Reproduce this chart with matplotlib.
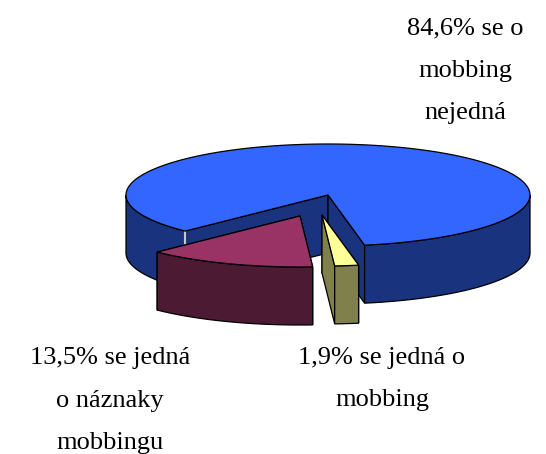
import matplotlib
matplotlib.use('Agg')
import matplotlib.pyplot as plt
from matplotlib.patches import Polygon
import numpy as np

# slice data (clockwise order as drawn)
labels = ['84,6% se o\nmobbing\nnejedná',
          '1,9% se jedná o\nmobbing',
          '13,5% se jedná\no náznaky\nmobbingu']
values = [84.6, 1.9, 13.5]
top_colors = ['#3366FF', '#FFFF99', '#993366']
side_colors = ['#1A337F', '#80804D', '#4D1A33']

# layout (pixel space)
cx, cy = 328, 195      # centre of top ellipse
ra, rb = 202, 51       # semi axes
depth = 58
start_angle = 225      # degrees, clockwise from 12 o'clock
explode = [(0, 0), (-6, 20), (-28, 21)]
# centre x and baseline of the last line of each label
label_pos = [(465, 119), (382, 406), (110, 449)]

fig = plt.figure(figsize=(5.46, 4.54), dpi=100)
ax = fig.add_axes([0, 0, 1, 1])
ax.set_xlim(0, 546)
ax.set_ylim(454, 0)
ax.axis('off')


def pt(theta, ox, oy, dz=0):
    t = np.radians(theta)
    return (cx + ox + ra * np.sin(t), cy + oy - rb * np.cos(t) + dz)


def arc(t1, t2, ox, oy, dz=0):
    n = max(int(abs(t2 - t1)) + 2, 3)
    ts = np.linspace(t1, t2, n)
    return [pt(t, ox, oy, dz) for t in ts]


total = sum(values)
ang = start_angle
lw = 0.9
for i, v in enumerate(values):
    t1 = ang
    t2 = ang + v / total * 360
    ang = t2
    ox, oy = explode[i]
    c = (cx + ox, cy + oy)
    cb = (cx + ox, cy + oy + depth)
    # radial cut faces
    for t in (t1, t2):
        p = pt(t, ox, oy)
        pb = pt(t, ox, oy, depth)
        ax.add_patch(Polygon([c, p, pb, cb], closed=True, fc=side_colors[i],
                             ec='black', lw=lw, zorder=1 + i * 3))
    # outer wall, front half only (90..270 deg)
    for k in range(-1, 2):
        lo = max(t1, 90 + 360 * k)
        hi = min(t2, 270 + 360 * k)
        if hi > lo:
            upper = arc(lo, hi, ox, oy)
            lower = arc(hi, lo, ox, oy, depth)
            ax.add_patch(Polygon(upper + lower, closed=True, fc=side_colors[i],
                                 ec='black', lw=lw, zorder=2 + i * 3))
    # top face
    top = [c] + arc(t1, t2, ox, oy)
    ax.add_patch(Polygon(top, closed=True, fc=top_colors[i], ec='black',
                         lw=lw, zorder=3 + i * 3))

# light edge where blue's left cut meets the wall
p = pt(start_angle, 0, 0)
ax.plot([p[0], p[0]], [p[1], p[1] + depth], color='#C8C8C8', lw=1.5, zorder=2)

for i, lab in enumerate(labels):
    x, y = label_pos[i]
    ax.text(x, y, lab, ha='center', va='baseline', fontsize=19,
            family=['Liberation Serif', 'DejaVu Serif'], linespacing=2.2,
            multialignment='center', zorder=20)

fig.savefig('out.png', dpi=100)
